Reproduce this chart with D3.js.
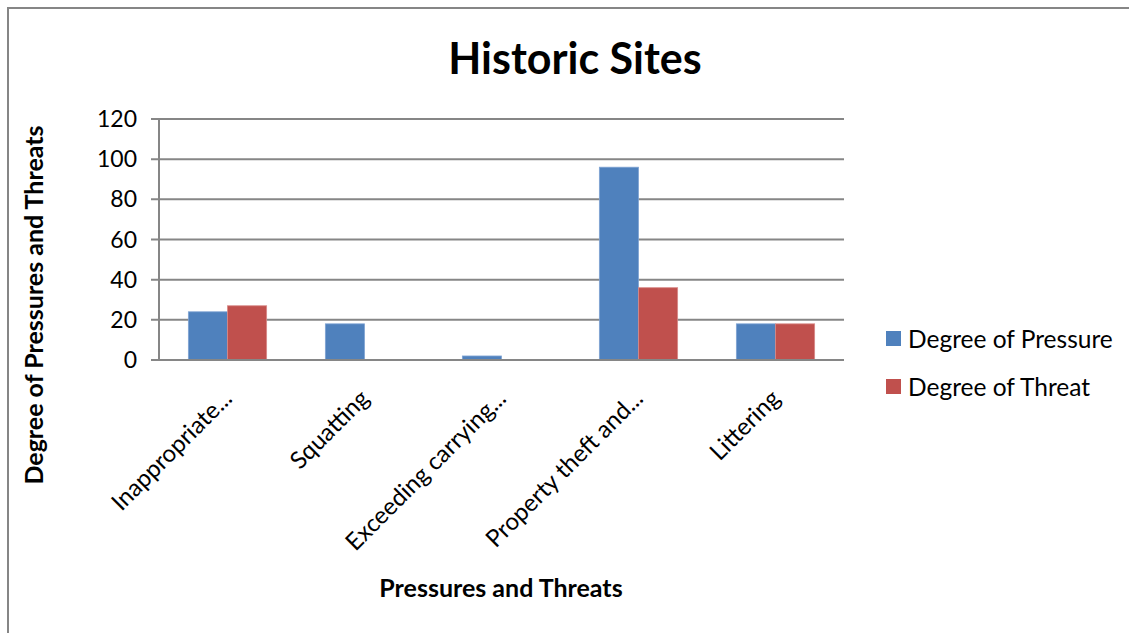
<!DOCTYPE html>
<html><head><meta charset="utf-8">
<script src="https://cdn.jsdelivr.net/npm/d3@7/dist/d3.min.js"></script>
<style>body{margin:0;background:#fff}svg{display:block;font-family:Lato,"Open Sans",sans-serif}</style>
</head><body><svg id="c" width="1129" height="633"></svg>
<script>
const categories = ["Inappropriate...", "Squatting", "Exceeding carrying...", "Property theft and...", "Littering"];
const seriesNames = ["Degree of Pressure", "Degree of Threat"];
const pressure = [24, 18, 2, 96, 18];
const threat = [27, 0, 0, 36, 18];
const yTicks = [0, 20, 40, 60, 80, 100, 120];
const colors = ["#4f81bd", "#c0504d"];

const svg = d3.select("#c");
svg.append("rect").attr("x", 8).attr("y", 8).attr("width", 1140).attr("height", 650)
  .attr("fill", "#fff").attr("stroke", "#868686").attr("stroke-width", 2);

const L = 159, R = 844, T = 119, B = 360;
const x = d3.scaleBand().domain(categories).range([L, R]).paddingInner(0).paddingOuter(0);
const bw = x.bandwidth() * 2 / 7;
const y = d3.scaleLinear().domain([0, 120]).range([B, T]);

svg.append("g").selectAll("line").data(yTicks).join("line")
  .attr("x1", L - 8).attr("x2", R).attr("y1", d => y(d)).attr("y2", d => y(d))
  .attr("stroke", "#868686").attr("stroke-width", 2);
svg.append("line").attr("x1", L).attr("x2", L).attr("y1", T).attr("y2", B)
  .attr("stroke", "#868686").attr("stroke-width", 2);

const data = categories.map((c, i) => ({c, vals: [pressure[i], threat[i]]}));
const g = svg.append("g");
data.forEach(d => {
  d.vals.forEach((v, j) => {
    if (v <= 0) return;
    const cx = x(d.c) + x.bandwidth() / 2;
    g.append("rect")
      .attr("x", cx - bw + j * bw).attr("width", bw)
      .attr("y", y(v)).attr("height", y(0) - y(v))
      .attr("fill", colors[j]).attr("stroke", j === 0 ? "#7fa3d3" : "#d88a88").attr("stroke-width", 0.8);
  });
});
svg.append("line").attr("x1", L - 8).attr("x2", R).attr("y1", B).attr("y2", B)
  .attr("stroke", "#868686").attr("stroke-width", 2);

svg.append("g").selectAll("text").data(yTicks).join("text")
  .attr("x", L - 22).attr("y", d => y(d)).attr("dy", "0.35em")
  .attr("text-anchor", "end").attr("font-size", 23).attr("fill", "#000").text(d => d);

svg.append("g").selectAll("text").data(categories).join("text")
  .attr("transform", d => `translate(${x(d) + x.bandwidth() / 2 + 6},${B + 40}) rotate(-45)`)
  .attr("text-anchor", "end").attr("font-size", 24).attr("fill", "#000").text(d => d);

svg.append("text").attr("x", 575).attr("y", 74).attr("text-anchor", "middle")
  .attr("font-size", 43).attr("font-weight", "bold").text("Historic Sites");
svg.append("text").attr("x", 501).attr("y", 597).attr("text-anchor", "middle")
  .attr("font-size", 25).attr("font-weight", "bold").text("Pressures and Threats");
svg.append("text").attr("transform", "translate(43,305) rotate(-90)").attr("text-anchor", "middle")
  .attr("font-size", 25).attr("font-weight", "bold").text("Degree of Pressures and Threats");

const lg = svg.append("g");
seriesNames.forEach((n, i) => {
  const yy = 339 + i * 48;
  lg.append("rect").attr("x", 886).attr("y", yy - 8).attr("width", 15).attr("height", 15).attr("fill", colors[i]);
  lg.append("text").attr("x", 908).attr("y", yy).attr("dy", "0.35em").attr("font-size", 24.5).text(n);
});
</script></body></html>
